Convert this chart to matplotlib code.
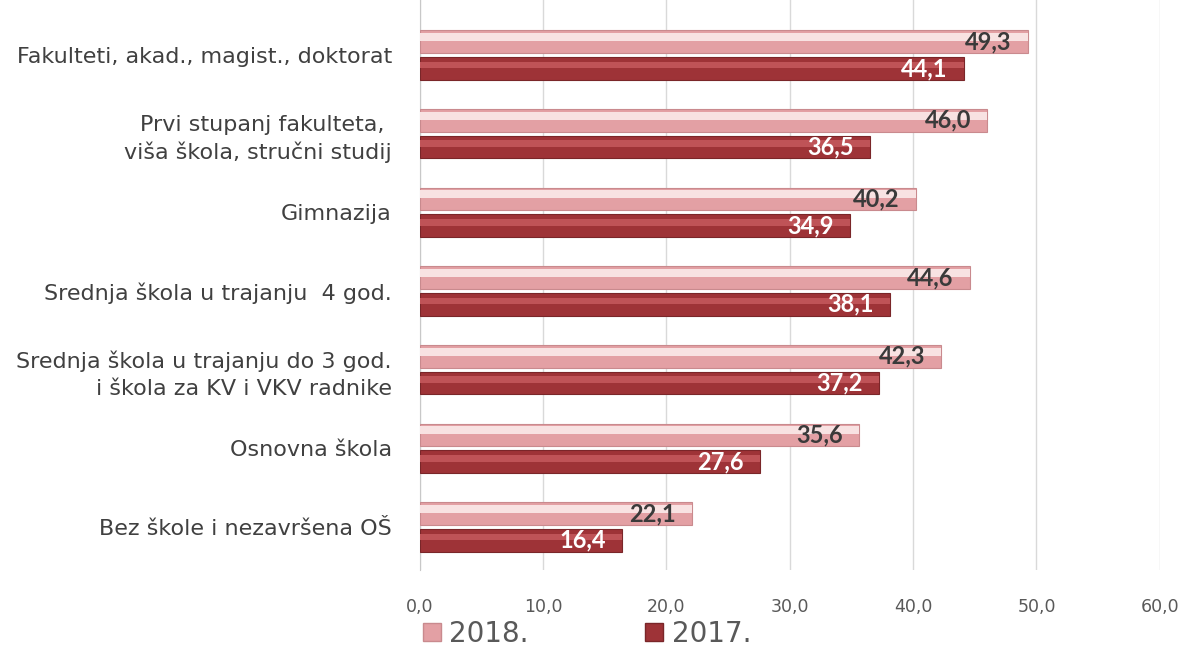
import numpy as np
import matplotlib.pyplot as plt
from matplotlib.patches import Patch

# Data
categories = [
    "Fakulteti, akad., magist., doktorat",
    "Prvi stupanj fakulteta, \nviša škola, stručni studij",
    "Gimnazija",
    "Srednja škola u trajanju  4 god.",
    "Srednja škola u trajanju do 3 god.\ni škola za KV i VKV radnike",
    "Osnovna škola",
    "Bez škole i nezavršena OŠ",
]
vals_2018 = [49.3, 46.0, 40.2, 44.6, 42.3, 35.6, 22.1]
vals_2017 = [44.1, 36.5, 34.9, 38.1, 37.2, 27.6, 16.4]

plt.rcParams['font.family'] = ['DejaVu Sans']

fig = plt.figure(figsize=(11.92, 6.48), dpi=100)
ax = fig.add_axes([0.352, 0.12, 0.621, 0.88])

y = np.arange(len(categories))
h = 0.29
off = 0.17

def fmt(v):
    return f"{v:.1f}".replace('.', ',')

# 2018 bars (light pink with highlight)
ax.barh(y - off, vals_2018, height=h, color='#e3a0a4', edgecolor='#c98a8e', linewidth=0.8, zorder=3)
ax.barh(y - off - h * 0.2, vals_2018, height=h * 0.35, color='#f8e2e2', linewidth=0, zorder=4)
# 2017 bars (dark red with highlight)
ax.barh(y + off, vals_2017, height=h, color='#9e3337', edgecolor='#7a2629', linewidth=0.8, zorder=3)
ax.barh(y + off - h * 0.15, vals_2017, height=h * 0.3, color='#bf5357', linewidth=0, zorder=4)

for i in range(len(categories)):
    ax.text(vals_2018[i] - 1.3, y[i] - off, fmt(vals_2018[i]), ha='right', va='center',
            fontsize=17, fontweight='bold', color='#3a3a3a', family='Lato', zorder=5)
    ax.text(vals_2017[i] - 1.3, y[i] + off, fmt(vals_2017[i]), ha='right', va='center',
            fontsize=17, fontweight='bold', color='white', family='Lato', zorder=5)

ax.set_xlim(0, 60)
ax.set_ylim(6.55, -0.70)
ax.set_xticks(np.arange(0, 61, 10))
ax.set_xticklabels([fmt(t) for t in np.arange(0, 61, 10)])
ax.set_yticks(y)
ax.set_yticklabels(categories, fontsize=16, color='#404040', linespacing=1.4)
ax.tick_params(axis='x', length=0, pad=20, labelsize=12.5, labelcolor='#595959')
ax.tick_params(axis='y', length=0, pad=20)

ax.grid(axis='x', color='#d9d9d9', linewidth=1, zorder=0)
for s in ['top', 'right', 'bottom']:
    ax.spines[s].set_visible(False)
ax.spines['left'].set_color('#c8c8c8')

handles = [Patch(facecolor='#e3a0a4', edgecolor='#c98a8e'),
           Patch(facecolor='#9e3337', edgecolor='#7a2629')]
fig.legend(handles, ['2018.', '2017.'], loc='center left', bbox_to_anchor=(0.343, 0.022),
           ncol=2, frameon=False, fontsize=20, handlelength=0.65, handleheight=0.65,
           handletextpad=0.3, columnspacing=4.2, labelcolor='#595959', borderpad=0)

plt.savefig('out.png', dpi=100)
